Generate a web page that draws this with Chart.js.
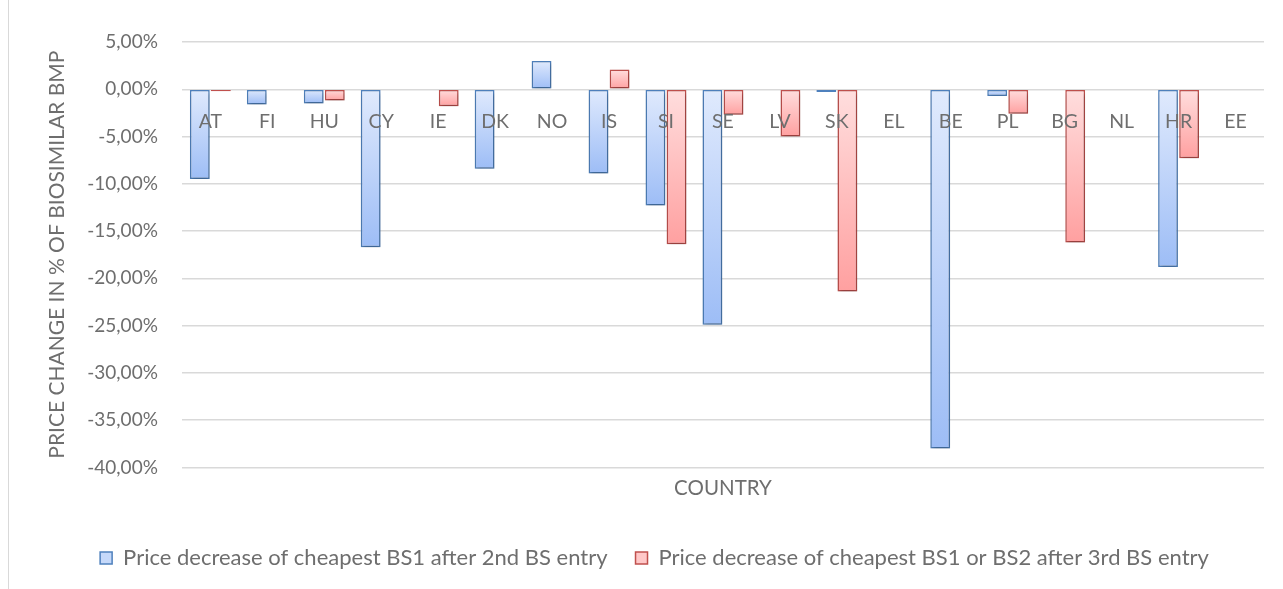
<!DOCTYPE html>
<html>
<head>
<meta charset="utf-8">
<script src="https://cdn.jsdelivr.net/npm/chart.js@4.4.0/dist/chart.umd.min.js"></script>
<style>
	body { margin: 0; background: #fff; }
	#wrap { position: relative; width: 1283px; height: 589px; }
	#edge { position: absolute; left: 8px; top: 0; bottom: 0; border-left: 1px solid #d9d9d9; }
</style>
</head>
<body>
<div id="wrap"><div id="edge"></div><canvas id="chart"></canvas></div>
<script>
// values, in % of biosimilar BMP
var countries = ["AT", "FI", "HU", "CY", "IE", "DK", "NO", "IS", "SI", "SE", "LV", "SK", "EL", "BE", "PL", "BG", "NL", "HR", "EE"];
var afterSecondEntry = [-9.5, -1.6, -1.5, -16.7, 0, -8.4, 3.0, -8.9, -12.3, -24.9, 0, -0.3, 0, -38.0, -0.7, 0, 0, -18.8, 0];
var afterThirdEntry = [-0.2, 0, -1.2, 0, -1.8, 0, 0, 2.1, -16.4, -2.7, -5.0, -21.4, 0, 0, -2.6, -16.2, 0, -7.3, 0];
var seriesNames = ["Price decrease of cheapest BS1 after 2nd BS entry", "Price decrease of cheapest BS1 or BS2 after 3rd BS entry"];
var yMin = -40, yMax = 5, yStep = 5;

var textColor = "#6e6e6e";
var fontFamily = "Lato, 'Open Sans', sans-serif";

// vertical gradient over each bar's own span, light on top
function barFill(top, bottom) {
	return function(ctx) {
		var chart = ctx.chart;
		if (!chart.chartArea || ctx.dataIndex === undefined) { return bottom; }
		var y = chart.scales.y;
		var p0 = y.getPixelForValue(0);
		var p1 = y.getPixelForValue(ctx.raw);
		var a = Math.min(p0, p1), b = Math.max(p0, p1);
		if (b - a < 1) { b = a + 1; }
		var g = chart.ctx.createLinearGradient(0, a, 0, b);
		g.addColorStop(0, top);
		g.addColorStop(1, bottom);
		return g;
	};
}

var barShadow = {
	id: "barShadow",
	beforeDatasetsDraw: function(chart) {
		var c = chart.ctx;
		c.save();
		c.shadowColor = "rgba(0,0,0,0.28)";
		c.shadowBlur = 4;
		c.shadowOffsetX = 1;
		c.shadowOffsetY = 2;
	},
	afterDatasetsDraw: function(chart) {
		chart.ctx.restore();
	}
};

var legendBoxes = [
	{ fill: "#c6d9fa", stroke: "#4f81bd" },
	{ fill: "#ffc8c8", stroke: "#c0504d" }
];

function drawChart() {
	new Chart(document.getElementById("chart"), {
		type: "bar",
		data: {
			labels: countries,
			datasets: [{
				label: seriesNames[0],
				data: afterSecondEntry,
				backgroundColor: barFill("#e0eafd", "#9dbdf6"),
				borderColor: "#4f81bd",
				borderWidth: 1.5,
				borderSkipped: false
			}, {
				label: seriesNames[1],
				data: afterThirdEntry,
				backgroundColor: barFill("#ffdede", "#ffa0a0"),
				borderColor: "#c0504d",
				borderWidth: 1.5,
				borderSkipped: false
			}]
		},
		options: {
			responsive: true,
			maintainAspectRatio: false,
			animation: false,
			categoryPercentage: 0.74,
			barPercentage: 0.94,
			layout: { padding: { left: 45, right: 19, top: 42, bottom: 10 } },
			plugins: {
				tooltip: { enabled: false },
				legend: {
					position: "bottom",
					labels: {
						color: textColor,
						font: { family: fontFamily, size: 22 },
						boxWidth: 12,
						boxHeight: 12,
						padding: 28,
						generateLabels: function(chart) {
							return chart.data.datasets.map(function(ds, i) {
								return {
									text: ds.label,
									fillStyle: legendBoxes[i].fill,
									strokeStyle: legendBoxes[i].stroke,
									lineWidth: 1.5,
									fontColor: textColor,
									datasetIndex: i
								};
							});
						}
					}
				}
			},
			scales: {
				x: {
					position: { y: 0 },
					grid: { display: false },
					border: { display: false },
					ticks: {
						z: 1,
						color: textColor,
						font: { family: fontFamily, size: 19.5 },
						padding: 13,
						maxRotation: 0,
						autoSkip: false
					}
				},
				x2: {
					type: "category",
					position: "bottom",
					grid: { display: false, drawTicks: false },
					border: { display: false },
					ticks: { display: false },
					title: {
						display: true,
						text: "COUNTRY",
						color: textColor,
						font: { family: fontFamily, size: 20.5 },
						padding: { top: 9, bottom: 18 }
					}
				},
				y: {
					min: yMin,
					max: yMax,
					grid: { color: "#d9d9d9", lineWidth: 1.5, drawTicks: false },
					border: { display: false },
					ticks: {
						stepSize: yStep,
						color: textColor,
						font: { family: fontFamily, size: 19 },
						padding: 24,
						callback: function(v) { return v.toFixed(2).replace(".", ",") + "%"; }
					},
					title: {
						display: true,
						text: "PRICE CHANGE IN % OF BIOSIMILAR BMP",
						color: textColor,
						font: { family: fontFamily, size: 21 },
						padding: { top: 0, bottom: -7 }
					}
				}
			}
		},
		plugins: [barShadow]
	});
}

// make sure the font is ready before Chart.js measures labels
Promise.all([
	document.fonts.load("19px Lato"),
	document.fonts.load("22px Lato")
]).then(drawChart, drawChart);
</script>
</body>
</html>
